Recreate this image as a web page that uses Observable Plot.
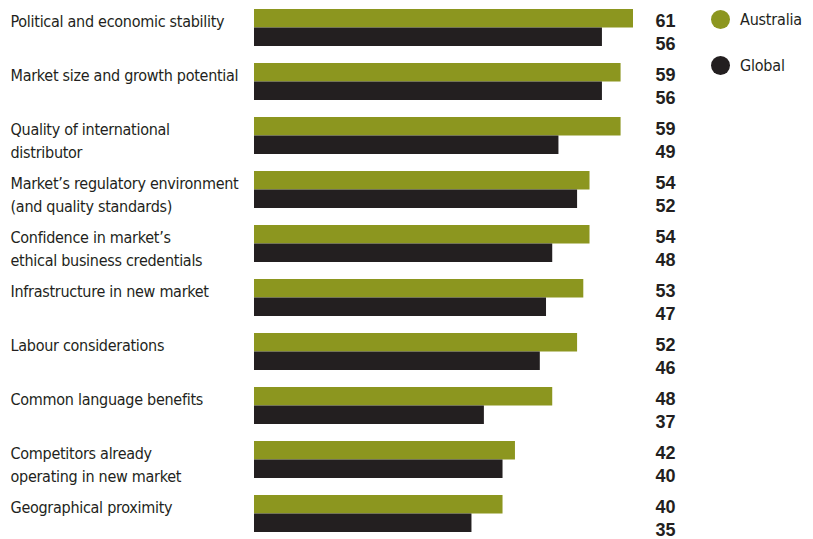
<!DOCTYPE html>
<html>
<head>
<meta charset="utf-8">
<script src="https://cdn.jsdelivr.net/npm/d3@7"></script>
<script src="https://cdn.jsdelivr.net/npm/@observablehq/plot@0.6"></script>
<style>
  body { margin: 0; background: #fff; }
  #wrap { position: relative; width: 813px; height: 539px; }
  .legend { position: absolute; left: 711px; font-family: "DejaVu Sans Condensed", "Roboto", sans-serif; font-size: 16px; letter-spacing: -0.2px; color: #231f20; display: flex; align-items: center; }
  .legend span.sw { width: 19px; height: 19px; border-radius: 50%; display: inline-block; margin-right: 10px; }
</style>
</head>
<body>
<div id="wrap"></div>
<script>
const categories = [
  "Political and economic stability",
  "Market size and growth potential",
  "Quality of international\ndistributor",
  "Market’s regulatory environment\n(and quality standards)",
  "Confidence in market’s\nethical business credentials",
  "Infrastructure in new market",
  "Labour considerations",
  "Common language benefits",
  "Competitors already\noperating in new market",
  "Geographical proximity"
];
const australia = [61, 59, 59, 54, 54, 53, 52, 48, 42, 40];
const globalVals = [56, 56, 49, 52, 48, 47, 46, 37, 40, 35];
const seriesNames = ["Australia", "Global"];
const seriesColors = ["#8c961f", "#231f20"];

const ausRows = categories.map((c, i) => ({category: c, value: australia[i]}));
const gloRows = categories.map((c, i) => ({category: c, value: globalVals[i]}));
const catRows = categories.map(c => ({category: c}));

const font = '"DejaVu Sans Condensed", "Roboto", sans-serif';
const boldFont = '"Liberation Sans", Arial, sans-serif';

const chart = Plot.plot({
  width: 813,
  height: 539,
  marginLeft: 254,
  marginRight: 180,
  marginTop: 8,
  marginBottom: 7,
  style: {fontFamily: font, color: "#231f20", background: "transparent"},
  x: {domain: [0, 61], axis: null},
  y: {domain: categories, axis: null, paddingInner: 0.316, paddingOuter: 0},
  marks: [
    Plot.barX(ausRows, {x: "value", y: "category", fill: seriesColors[0], insetBottom: 18.5}),
    Plot.barX(gloRows, {x: "value", y: "category", fill: seriesColors[1], insetTop: 18.5}),
    Plot.text(catRows, {y: "category", text: "category", frameAnchor: "left", dx: -244, dy: -17,
      textAnchor: "start", lineAnchor: "top", lineHeight: 1.44, fontSize: 16, fill: "#231f20", className: "cat"}),
    Plot.text(ausRows, {y: "category", text: d => String(d.value), frameAnchor: "right", dx: 42, dy: -6.5,
      textAnchor: "end", fontSize: 18, fontWeight: "bold", fontFamily: boldFont, fill: "#231f20"}),
    Plot.text(gloRows, {y: "category", text: d => String(d.value), frameAnchor: "right", dx: 42, dy: 16.5,
      textAnchor: "end", fontSize: 18, fontWeight: "bold", fontFamily: boldFont, fill: "#231f20"})
  ]
});
const wrap = document.getElementById("wrap");
wrap.appendChild(chart);
d3.select(chart).selectAll(".cat text, text.cat").style("letter-spacing", "-0.28px");
const legendTops = [10, 56];
seriesNames.forEach((name, i) => {
  const d = document.createElement("div");
  d.className = "legend";
  d.style.top = legendTops[i] + "px";
  d.innerHTML = `<span class="sw" style="background:${seriesColors[i]}"></span>${name}`;
  wrap.appendChild(d);
});
</script>
</body>
</html>
